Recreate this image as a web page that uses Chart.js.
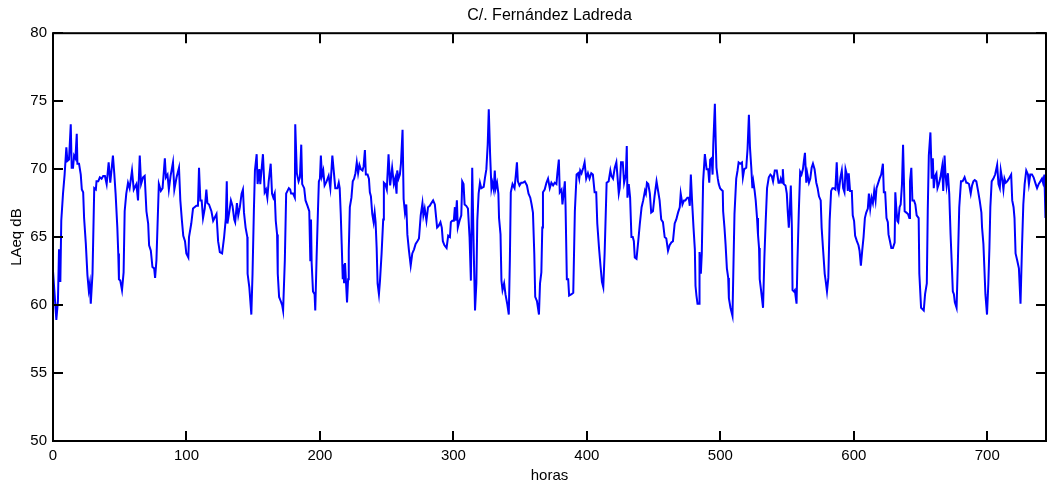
<!DOCTYPE html>
<html>
<head>
<meta charset="utf-8">
<title>C/. Fernández Ladreda</title>
<script src="https://cdn.jsdelivr.net/npm/chart.js@4.4.1/dist/chart.umd.min.js"></script>
<style>
  html, body { margin: 0; padding: 0; background: #fff; }
  #wrap { width: 1048px; height: 486px; }
</style>
</head>
<body>
<div id="wrap"><canvas id="myChart" width="1048" height="486"></canvas></div>
<script>
// hora de la medida (0 = inicio del mes)
const horas = [
    0.0, 1.2, 2.5, 3.7, 4.5, 5.5, 6.2, 7.5, 8.7, 10.0, 10.8, 12.0, 13.3, 14.0, 15.0, 15.8, 16.8, 17.8, 18.3, 19.5,
    20.8, 21.6, 22.6, 23.3, 24.6, 25.8, 26.8, 27.6, 28.3, 29.6, 30.9, 32.1, 32.6, 33.9, 35.1, 36.4, 37.6, 38.9, 40.2, 41.7,
    42.9, 44.9, 45.9, 46.9, 48.2, 48.9, 49.4, 50.4, 51.7, 52.9, 53.7, 54.9, 56.2, 57.4, 59.2, 60.5, 62.5, 63.7, 65.0, 66.0,
    67.5, 68.7, 70.0, 71.3, 72.0, 73.3, 74.5, 75.8, 76.5, 77.5, 79.3, 80.8, 82.1, 83.8, 84.6, 85.8, 86.8, 88.1, 89.9, 90.9,
    92.6, 94.4, 95.4, 96.6, 97.6, 98.9, 99.9, 101.4, 101.9, 103.6, 104.9, 107.4, 108.6, 109.4, 110.4, 111.4, 112.4, 113.7, 114.9, 115.7,
    116.9, 118.7, 120.0,
    122.5, 123.7, 125.0, 126.7, 128.2, 129.5, 130.2, 130.7, 132.0, 133.3, 134.5, 135.8, 136.5, 137.8, 138.8, 140.0, 141.3, 142.3, 143.1, 144.3,
    145.6, 145.8, 147.1, 148.6, 149.5, 150.5, 151.3, 152.6, 153.3, 154.6, 155.3, 157.3, 158.6, 159.6, 160.6, 161.6, 163.1, 164.1, 165.1, 166.1,
    166.9, 167.9, 168.4, 169.4, 170.6, 171.7, 172.4, 173.7, 174.7, 175.7, 176.7, 177.7, 178.4, 179.9, 181.2, 181.5, 182.7, 184.0, 185.0, 186.0,
    186.7, 188.2, 189.2, 190.7, 192.0, 192.8, 193.3, 193.8, 194.8, 196.0, 196.5, 197.5, 198.5, 199.2, 200.0, 200.7, 201.5, 202.5, 203.5, 205.0,
    206.5, 207.8, 209.3, 210.5, 211.5, 213.1, 214.1, 214.8, 215.6, 216.3, 217.1, 217.6, 218.1, 218.8, 220.3, 221.1, 221.6, 222.4, 223.6, 224.6,
    225.6, 226.6, 227.6, 228.6, 229.6, 230.6, 231.9, 232.7, 233.7, 234.4, 235.7, 236.7, 237.4, 238.2, 239.2, 240.2, 241.0, 241.7, 242.5, 243.2,
    244.2, 245.0,
    246.2, 247.4, 247.9, 248.9, 250.1, 251.4, 252.6, 254.1, 255.4, 256.4, 257.4, 257.9, 258.9, 259.9, 260.7, 261.9, 262.7, 263.7, 264.7, 265.5,
    266.7, 268.0, 269.2, 270.5, 271.7, 273.0, 274.2, 275.5, 276.8, 277.5, 278.5, 279.8, 281.0, 282.3, 283.5, 284.8, 286.1, 287.8, 288.8, 290.3,
    291.3, 292.1, 293.3, 294.9, 296.1, 297.4, 298.1, 299.1, 300.3, 301.1, 301.6, 302.6, 303.3, 304.6, 305.9, 306.6, 307.6, 308.4, 309.6, 310.9,
    312.1, 313.1, 314.1, 315.2, 316.2, 317.2, 317.9, 318.9, 319.9, 320.9, 322.7, 323.7, 324.7, 325.7, 326.5, 327.5, 328.5, 329.2, 330.2, 331.0,
    331.7, 332.7, 333.7, 334.2, 335.3, 336.0, 336.8, 338.0, 339.0, 340.3, 341.5, 342.3, 343.0, 344.3, 345.8, 346.8, 347.6, 348.3, 349.5, 350.8,
    352.0, 353.5, 355.1, 356.3, 357.6, 358.6, 359.6, 360.6, 361.3, 362.6, 364.1, 364.9, 365.9, 366.6, 367.1, 368.4,
    369.7, 370.9, 372.2, 373.4, 374.7, 375.9, 377.2, 377.9, 379.0, 379.7, 381.0, 381.7, 382.7, 383.5, 384.0, 385.0, 386.0, 386.7, 388.5, 389.8,
    391.0, 392.3, 393.5, 394.3, 395.0, 396.0, 397.3, 398.3, 399.5, 400.8, 402.0, 403.3, 404.5, 405.8, 407.0, 407.8, 409.1, 410.3, 411.3, 412.3,
    413.3, 414.8, 416.3, 417.6, 418.4, 419.6, 420.9, 422.1, 422.9, 423.9, 424.6, 425.6, 426.9, 427.9, 429.2, 429.9, 430.4, 431.4, 432.4, 433.4,
    434.4, 435.2, 435.9, 437.2, 438.5, 439.7, 441.0, 442.2, 443.5, 444.2, 445.0, 446.0, 447.2, 448.2, 449.5, 450.7, 452.2, 453.2, 454.5, 455.7,
    457.0, 458.3, 459.5, 460.8, 462.0, 463.3, 464.5, 465.8, 467.0, 468.3, 469.6, 470.3, 471.6, 472.8, 473.8, 475.3, 476.3, 477.1, 477.9, 478.9,
    479.9, 480.9, 481.4, 482.1, 482.9, 484.1, 484.4, 485.4, 486.1, 487.1, 488.4, 489.7, 490.9, 491.7, 492.4, 493.4, 494.2, 494.7,
    495.9, 496.6, 497.1, 498.1, 498.8, 499.8, 500.6, 501.8, 502.1, 503.1, 503.9, 504.9, 505.9, 506.4, 507.6, 509.1, 509.9, 510.6, 511.9, 512.9,
    513.7, 514.9, 516.2, 516.9, 517.9, 519.4, 520.4, 521.4, 522.2, 523.2, 524.0, 524.7, 525.7, 526.5, 527.5, 528.2, 529.0, 529.5, 530.5, 532.0,
    533.0, 534.0, 535.0, 536.3, 537.5, 538.5, 539.5, 540.8, 542.3, 543.6, 544.6, 545.3, 546.3, 546.8, 547.5, 548.8, 549.8, 550.5, 551.3, 552.1,
    552.8, 553.6, 554.1, 555.1, 555.8, 557.1, 557.8, 558.8, 559.8, 560.8, 561.9, 562.6, 563.4, 564.4, 565.1, 566.4, 567.4, 568.4, 569.4, 570.6,
    571.9, 572.9, 573.9, 575.2, 575.9, 576.9, 578.2, 578.9, 579.9, 580.9, 581.9, 583.0, 584.0, 585.0, 586.2, 587.2, 588.0, 588.7, 590.0, 591.0,
    592.0, 593.0, 593.8, 594.8, 595.5, 596.2, 597.2, 598.5, 599.2, 600.2, 601.0, 602.3, 603.5, 604.3, 605.3, 606.3, 607.3, 608.3, 609.3, 610.5,
    611.3, 612.3, 613.3, 614.3, 615.3,
    616.3, 617.0, 618.0, 619.3, 620.5, 621.8, 622.5, 623.5, 624.5, 625.5, 626.0, 627.1, 628.1, 629.3, 630.6, 631.1, 631.8, 632.6, 633.3, 634.3,
    635.1, 636.1, 636.9, 638.1, 639.4, 640.6, 641.6, 642.1, 643.1, 643.9, 645.1, 646.1, 647.1, 648.6, 649.1, 650.4, 651.4, 652.4, 653.4, 654.7,
    655.4, 656.2, 657.4, 658.4, 659.2, 659.9, 660.9, 661.9, 662.7, 663.7, 664.9, 666.2, 667.0, 668.0, 668.7, 669.5, 670.5, 671.5, 672.5, 673.5,
    674.2, 675.0, 675.7, 677.0, 678.0, 679.0, 680.3, 681.5, 683.0, 684.3, 685.0, 686.3, 687.6, 688.6, 689.6, 690.6, 691.8, 693.1, 694.3, 695.6,
    696.1, 697.1, 697.8, 698.6, 699.8, 700.8, 701.6, 702.3, 703.3, 704.6, 705.9, 707.4, 708.4, 709.4, 710.1, 711.4, 712.1, 712.9, 713.9, 714.9,
    716.2, 717.9, 718.7, 719.7, 720.4, 721.2, 722.4, 723.7, 724.9, 726.0, 727.0, 728.0, 729.2, 730.5, 731.2, 732.2, 733.5, 734.7, 736.3, 737.3,
    738.5, 739.8, 741.0, 741.8, 742.8, 743.6
];

// nivel equivalente LAeq (dB)
const laeq = [
    62.5, 60.8, 58.9, 60.3, 64.1, 61.7, 66.2, 68.2, 69.6, 71.6, 70.6, 70.7, 73.3, 70.1, 70.1, 71.0, 70.8, 72.6, 70.4, 70.4,
    69.6, 68.5, 68.3, 66.4, 64.5, 62.2, 61.1, 61.6, 60.1, 62.3, 68.6, 68.5, 69.1, 69.1, 69.4, 69.3, 69.5, 69.5, 68.9, 70.5,
    69.0, 71.0, 69.7, 68.2, 65.7, 63.8, 61.9, 61.8, 61.1, 62.4, 66.9, 68.2, 69.0, 68.6, 69.9, 68.5, 68.9, 67.7, 71.0, 68.9,
    69.4, 69.5, 66.9, 66.0, 64.4, 64.0, 62.8, 62.7, 62.0, 63.3, 68.9, 68.4, 68.6, 70.8, 69.4, 69.6, 68.5, 69.5, 70.5, 68.5,
    69.4, 70.1, 67.7, 66.2, 65.1, 64.7, 63.8, 63.5, 65.0, 66.0, 67.1, 67.3, 67.3, 70.1, 67.7, 67.7, 66.4, 67.1, 68.5, 67.5,
    67.4, 66.9, 66.2,
    66.7, 64.7, 63.9, 63.8, 65.0, 66.4, 69.1, 66.0, 66.8, 67.7, 67.3, 66.3, 66.1, 67.5, 66.6, 67.2, 68.2, 68.5, 66.8, 65.7,
    65.0, 62.3, 61.3, 59.3, 62.3, 66.9, 69.9, 71.1, 68.9, 70.0, 68.9, 71.1, 68.3, 68.5, 67.9, 69.1, 70.4, 68.2, 67.9, 68.2,
    66.2, 65.2, 62.3, 60.6, 60.3, 60.0, 59.6, 63.3, 68.2, 68.4, 68.6, 68.5, 68.2, 68.2, 67.9, 73.3, 69.7, 69.1, 69.4, 71.8,
    68.9, 68.6, 67.7, 67.3, 66.9, 63.3, 66.3, 63.1, 61.0, 60.8, 59.6, 63.5, 66.9, 69.1, 69.3, 71.0, 69.5, 69.9, 68.8, 69.1,
    69.5, 68.6, 71.0, 69.7, 68.6, 68.6, 69.0, 68.6, 66.7, 64.5, 61.9, 63.0, 61.6, 63.1, 60.2, 61.9, 64.0, 67.2, 67.9, 69.1,
    69.3, 69.7, 70.5, 69.7, 70.3, 70.0, 69.9, 70.2, 71.4, 69.6, 69.6, 69.3, 68.3, 68.0, 66.7, 66.1, 66.8, 66.1, 64.2, 61.6,
    60.8, 61.8,
    63.8, 66.3, 69.0, 68.9, 68.5, 71.1, 68.8, 70.1, 68.9, 69.3, 68.2, 69.9, 69.3, 69.6, 70.4, 72.9, 67.8, 66.8, 67.4, 65.2,
    64.0, 62.9, 63.8, 64.1, 64.5, 64.7, 64.9, 66.6, 67.5, 66.6, 67.1, 66.2, 67.2, 67.3, 67.5, 67.7, 67.4, 65.7, 65.8, 66.1,
    65.7, 64.7, 64.4, 64.2, 65.1, 65.0, 66.1, 66.2, 66.2, 67.2, 66.2, 67.7, 65.7, 66.2, 66.6, 69.1, 68.9, 67.4, 67.3, 67.1,
    65.0, 61.8, 70.1, 64.2, 59.6, 61.6, 66.2, 68.2, 69.0, 68.6, 68.7, 69.4, 70.0, 71.8, 74.4, 71.1, 68.6, 69.0, 68.5, 69.9,
    68.6, 69.0, 68.2, 66.4, 65.2, 61.8, 61.1, 61.6, 60.8, 60.1, 59.3, 63.3, 68.3, 68.9, 68.6, 69.6, 70.5, 69.1, 68.8, 69.0,
    69.0, 69.1, 68.8, 68.2, 67.9, 67.4, 66.8, 63.8, 60.6, 60.3, 59.3, 61.6, 62.4, 65.7, 68.3, 68.5,
    69.0, 69.3, 68.6, 69.0, 68.8, 69.0, 68.9, 69.7, 70.7, 68.3, 68.5, 67.4, 68.3, 69.1, 67.4, 61.9, 61.9, 60.7, 60.8, 60.9,
    66.9, 69.6, 69.7, 69.3, 69.9, 69.7, 70.1, 70.5, 69.3, 69.7, 69.3, 69.7, 69.6, 68.3, 68.3, 66.0, 64.2, 62.8, 61.7, 61.3,
    63.8, 69.0, 69.1, 69.9, 69.5, 69.3, 70.1, 70.5, 69.5, 68.2, 68.6, 70.5, 70.5, 69.0, 69.6, 71.7, 67.9, 68.9, 67.9, 65.0,
    65.0, 64.7, 63.5, 63.4, 64.7, 66.0, 67.2, 67.7, 68.4, 68.2, 69.0, 68.9, 68.2, 66.8, 66.9, 68.0, 69.1, 68.5, 67.7, 66.3,
    66.1, 65.0, 64.9, 64.0, 64.4, 64.6, 64.7, 66.0, 66.3, 66.8, 67.2, 68.2, 67.4, 67.7, 67.7, 67.9, 67.9, 67.3, 69.6, 67.5,
    65.7, 64.1, 61.4, 60.7, 60.1, 60.1, 63.9, 62.3, 63.8, 69.1, 71.1, 70.0, 70.0, 69.0, 70.7, 70.8, 69.6, 71.8,
    74.8, 71.8, 70.1, 69.3, 68.9, 68.6, 68.5, 68.4, 66.9, 65.7, 64.5, 62.7, 62.0, 60.5, 59.8, 59.2, 63.3, 66.7, 69.3, 69.9,
    70.5, 70.4, 70.5, 69.4, 70.0, 70.1, 71.5, 74.0, 71.6, 70.1, 68.6, 69.1, 68.4, 67.7, 66.4, 65.2, 64.2, 61.9, 61.1, 59.8,
    63.5, 66.2, 68.6, 69.4, 69.6, 69.5, 69.1, 69.9, 69.9, 69.0, 69.0, 69.3, 69.0, 70.0, 68.9, 68.8, 68.2, 66.9, 65.7, 67.1,
    68.8, 65.7, 61.1, 61.0, 61.1, 60.1, 63.3, 66.9, 69.8, 69.6, 70.0, 70.6, 71.2, 69.0, 69.7, 69.0, 69.3, 70.1, 70.4, 70.0,
    69.0, 68.6, 68.0, 67.7, 65.7, 64.2, 62.3, 61.8, 61.0, 62.0, 66.2, 68.4, 68.6, 68.6, 68.5, 70.5, 68.6, 68.3, 69.4, 69.9,
    68.6, 68.3, 70.0, 69.6, 68.4, 69.7, 68.4, 68.4, 66.6, 66.2, 65.1, 64.7, 64.4, 64.0, 62.9, 64.0, 65.0, 66.4, 66.8, 67.1,
    68.2, 67.1, 67.9, 67.5, 68.4,
    67.7, 68.6, 68.9, 69.3, 69.6, 70.4, 68.3, 68.3, 66.4, 66.1, 65.2, 64.7, 64.2, 64.2, 64.6, 68.3, 67.2, 66.2, 66.1, 67.2,
    67.4, 68.9, 71.8, 66.9, 66.8, 66.7, 66.4, 69.1, 70.1, 67.7, 67.7, 67.4, 66.6, 66.4, 62.3, 59.8, 59.7, 59.6, 60.8, 61.6,
    66.9, 71.0, 72.7, 69.3, 70.8, 68.6, 69.5, 69.7, 68.6, 68.9, 69.4, 70.2, 68.4, 71.0, 69.6, 68.8, 69.7, 68.2, 65.2, 62.8,
    61.0, 60.8, 60.2, 59.8, 63.3, 67.2, 69.1, 69.1, 69.4, 69.0, 69.0, 68.9, 68.2, 68.8, 69.1, 69.2, 69.1, 68.4, 67.7, 66.8,
    65.7, 64.5, 62.8, 60.8, 59.3, 61.6, 64.2, 67.2, 69.1, 69.3, 69.6, 70.3, 68.9, 68.6, 69.9, 69.1, 68.5, 69.3, 69.0, 69.1,
    69.3, 69.6, 67.7, 67.2, 66.4, 63.8, 63.3, 62.7, 60.1, 64.2, 67.4, 68.9, 69.9, 69.6, 68.9, 69.6, 69.6, 69.4, 68.9, 68.6,
    68.9, 69.1, 69.3, 69.0, 69.6, 66.4
];

const ticksX = [0, 100, 200, 300, 400, 500, 600, 700];
const ticksY = [50, 55, 60, 65, 70, 75, 80];

const fuente = "'Liberation Sans', Arial, sans-serif";

/**
 * Marcas hacia dentro en los cuatro lados y marco del área de la gráfica
 */
const marcasInternas = {
    id: 'marcasInternas',
    afterDraw(chart) {
        const { ctx, chartArea: a, scales: { x, y } } = chart;
        const largo = 10;
        ctx.save();
        ctx.strokeStyle = '#000';
        ctx.lineWidth = 2;
        ctx.beginPath();
        x.ticks.forEach(t => {
            const px = Math.round(x.getPixelForValue(t.value));
            ctx.moveTo(px, a.bottom);
            ctx.lineTo(px, a.bottom - largo);
            ctx.moveTo(px, a.top);
            ctx.lineTo(px, a.top + largo);
        });
        y.ticks.forEach(t => {
            const py = Math.round(y.getPixelForValue(t.value));
            ctx.moveTo(a.left, py);
            ctx.lineTo(a.left + largo, py);
            ctx.moveTo(a.right, py);
            ctx.lineTo(a.right - largo, py);
        });
        ctx.stroke();
        ctx.strokeRect(a.left, a.top, a.right - a.left, a.bottom - a.top);
        ctx.restore();
    }
};

function loadChart()
{
    const puntos = horas.map((h, i) => ({ x: h, y: laeq[i] }));

    const config = {
        type: 'line',
        data: {
            datasets: [{
                label: 'LAeq',
                data: puntos,
                borderColor: 'rgb(0, 0, 255)',
                borderWidth: 2,
                pointRadius: 0,
                tension: 0,
                fill: false
            }]
        },
        options: {
            responsive: false,
            animation: false,
            layout: {
                padding: { left: 0, right: 2, top: 0, bottom: 0 }
            },
            plugins: {
                legend: { display: false },
                tooltip: { enabled: false },
                title: {
                    display: true,
                    fullSize: false,
                    text: 'C/. Fernández Ladreda',
                    color: '#000',
                    font: { family: fuente, size: 16, weight: 'normal' },
                    padding: { top: 6, bottom: 8 }
                }
            },
            scales: {
                x: {
                    type: 'linear',
                    min: 0,
                    max: 744,
                    afterBuildTicks: s => { s.ticks = ticksX.map(v => ({ value: v })); },
                    afterFit: s => { s.height = 45; },
                    grid: { display: false, drawTicks: false },
                    border: { display: false },
                    ticks: {
                        color: '#000',
                        padding: 6,
                        maxRotation: 0,
                        font: { family: fuente, size: 15 }
                    },
                    title: {
                        display: true,
                        text: 'horas',
                        color: '#000',
                        font: { family: fuente, size: 15 },
                        padding: { top: 0, bottom: 1 }
                    }
                },
                y: {
                    min: 50,
                    max: 80,
                    afterBuildTicks: s => { s.ticks = ticksY.map(v => ({ value: v })); },
                    afterFit: s => { s.width = 53; },
                    grid: { display: false, drawTicks: false },
                    border: { display: false },
                    ticks: {
                        color: '#000',
                        padding: 6,
                        font: { family: fuente, size: 15 }
                    },
                    title: {
                        display: true,
                        text: 'LAeq dB',
                        color: '#000',
                        font: { family: fuente, size: 15 },
                        padding: { top: 8, bottom: 0 }
                    }
                }
            }
        },
        plugins: [marcasInternas]
    };

    const ctx = document.getElementById('myChart').getContext('2d');

    if (ctx) {
        new Chart(ctx, config);
    }
}

loadChart();
</script>
</body>
</html>
